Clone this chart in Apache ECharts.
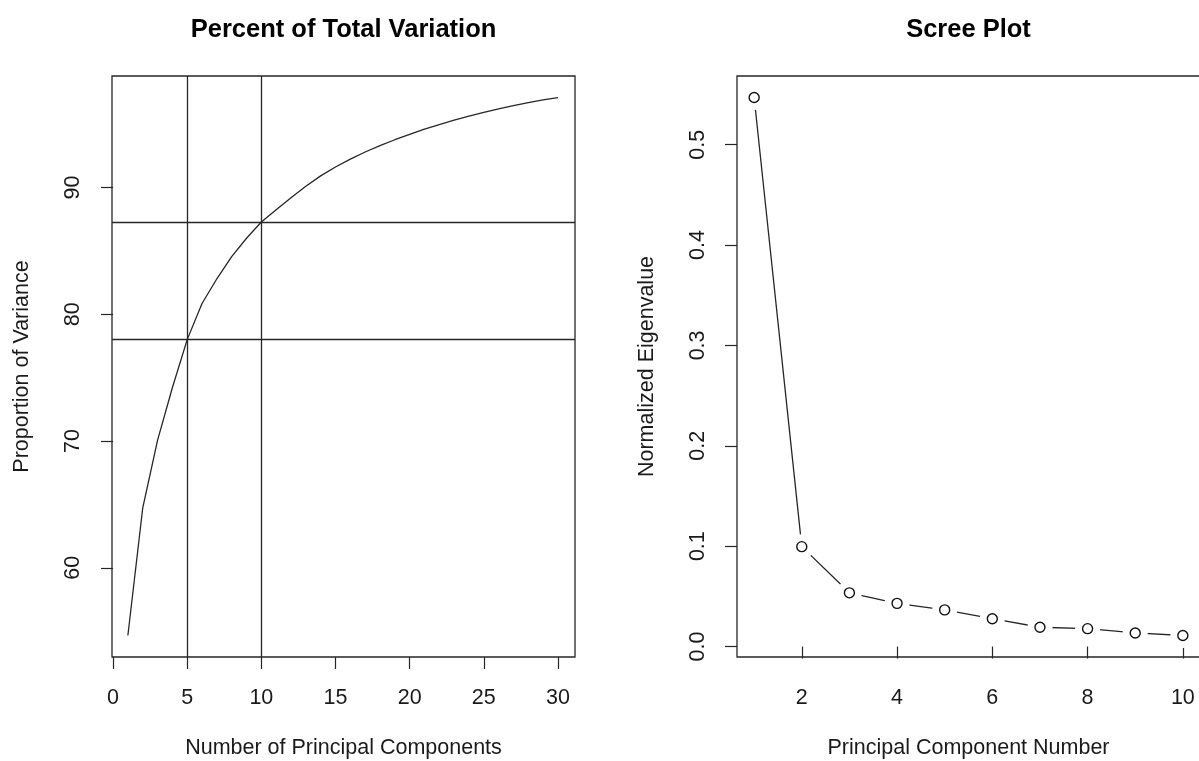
<!DOCTYPE html>
<html>
<head>
<meta charset="utf-8">
<script src="https://cdn.jsdelivr.net/npm/echarts@6/dist/echarts.min.js"></script>
<style>
  html, body { margin: 0; padding: 0; background: #fff; }
  #chart { width: 1199px; height: 761px; }
</style>
</head>
<body>
<div id="chart"></div>
<script>
// Cumulative percent of total variation, components 1..30
const componentCount = [1,2,3,4,5,6,7,8,9,10,11,12,13,14,15,16,17,18,19,20,21,22,23,24,25,26,27,28,29,30];
const cumulativePercent = [54.66, 64.7, 70.05, 74.2, 78.0, 80.85, 82.8, 84.55, 86.0, 87.28,
  88.25, 89.2, 90.1, 90.92, 91.62, 92.24, 92.8, 93.3, 93.77, 94.2,
  94.6, 94.97, 95.31, 95.63, 95.92, 96.2, 96.46, 96.7, 96.91, 97.1];
// Reference cut-offs (number of components)
const cutoffs = [5, 10];

// Normalized eigenvalues of the first ten components
const componentNumber = [1,2,3,4,5,6,7,8,9,10];
const eigenvalues = [0.547, 0.0995, 0.0535, 0.043, 0.0365, 0.0277, 0.0192, 0.0178, 0.0135, 0.011];

// Tick labels
const leftXTicks = [0, 5, 10, 15, 20, 25, 30];
const leftYTicks = [60, 70, 80, 90];
const rightXTicks = [2, 4, 6, 8, 10];
const rightYTicks = [0, 0.1, 0.2, 0.3, 0.4, 0.5];

const FONT = '"Liberation Sans", Arial, Helvetica, sans-serif';
const INK = '#1a1a1a';
const LINE = '#262626';

// R-style range: data span padded by 4% on each side
function padRange(vals) {
  const lo = Math.min(...vals), hi = Math.max(...vals);
  const d = (hi - lo) * 0.04;
  return [lo - d, hi + d];
}

const leftGrid = { left: 112, top: 76, width: 463, height: 581 };
const rightGrid = { left: 737, top: 76, width: 463, height: 581 };

const [lyMin, lyMax] = padRange(cumulativePercent);
const [rxMin, rxMax] = padRange(componentNumber);
const [ryMin, ryMax] = padRange(eigenvalues);

function valueAxis(opts) {
  return Object.assign({
    type: 'value',
    axisLine: { show: false },
    splitLine: { show: false },
    nameLocation: 'middle',
    nameTextStyle: { fontFamily: FONT, fontSize: 21.5, color: INK },
  }, opts);
}

function ticks(values) {
  return { show: true, length: 12, customValues: values, lineStyle: { color: LINE, width: 1.2 } };
}

function frame(rect) {
  return Object.assign({
    show: true, borderColor: LINE, borderWidth: 1.3, backgroundColor: 'transparent',
    containLabel: false, outerBoundsMode: 'none'
  }, rect);
}

const chart = echarts.init(document.getElementById('chart'), null, { renderer: 'canvas' });

chart.setOption({
  backgroundColor: '#fff',
  animation: false,
  grid: [frame(leftGrid), frame(rightGrid)],
  graphic: [
    { type: 'text', x: leftGrid.left + leftGrid.width / 2, y: 30,
      style: { text: 'Percent of Total Variation', font: 'bold 25.5px ' + FONT, fill: '#000', align: 'center', verticalAlign: 'middle' } },
    { type: 'text', x: rightGrid.left + rightGrid.width / 2, y: 30,
      style: { text: 'Scree Plot', font: 'bold 25.5px ' + FONT, fill: '#000', align: 'center', verticalAlign: 'middle' } }
  ],
  xAxis: [
    valueAxis({
      gridIndex: 0, min: -0.07, max: 31.15,
      name: 'Number of Principal Components', nameGap: 80,
      axisTick: ticks(leftXTicks),
      axisLabel: { customValues: leftXTicks, margin: 30, fontFamily: FONT, fontSize: 21.5, color: INK }
    }),
    valueAxis({
      gridIndex: 1, min: rxMin, max: rxMax,
      name: 'Principal Component Number', nameGap: 80,
      axisTick: ticks(rightXTicks),
      axisLabel: { customValues: rightXTicks, margin: 30, fontFamily: FONT, fontSize: 21.5, color: INK }
    })
  ],
  yAxis: [
    valueAxis({
      gridIndex: 0, min: lyMin, max: lyMax,
      name: 'Proportion of Variance', nameGap: 79,
      axisTick: ticks(leftYTicks),
      axisLabel: { customValues: leftYTicks, rotate: 90, margin: 28, fontFamily: FONT, fontSize: 21.5, color: INK }
    }),
    valueAxis({
      gridIndex: 1, min: ryMin, max: ryMax,
      name: 'Normalized Eigenvalue', nameGap: 79,
      axisTick: ticks(rightYTicks),
      axisLabel: { customValues: rightYTicks, rotate: 90, margin: 28, fontFamily: FONT, fontSize: 21.5, color: INK,
        formatter: v => Number(v).toFixed(1) }
    })
  ],
  series: [
    {
      type: 'line', xAxisIndex: 0, yAxisIndex: 0, z: 2,
      data: componentCount.map((k, i) => [k, cumulativePercent[i]]),
      showSymbol: false, symbol: 'none', silent: true,
      lineStyle: { color: LINE, width: 1.3 },
      markLine: {
        silent: true, symbol: 'none', animation: false,
        label: { show: false },
        lineStyle: { color: LINE, width: 1.3, type: 'solid' },
        data: [
          ...cutoffs.map(c => ({ xAxis: c })),
          ...cutoffs.map(c => ({ yAxis: cumulativePercent[componentCount.indexOf(c)] }))
        ]
      }
    },
    {
      type: 'line', xAxisIndex: 1, yAxisIndex: 1, z: 2,
      data: componentNumber.map((k, i) => [k, eigenvalues[i]]),
      showSymbol: false, symbol: 'none', silent: true,
      lineStyle: { color: LINE, width: 1.3 }
    },
    // white halo leaves a gap in the connecting line around each point
    {
      type: 'scatter', xAxisIndex: 1, yAxisIndex: 1, silent: true, z: 5,
      data: componentNumber.map((k, i) => [k, eigenvalues[i]]),
      symbol: 'circle', symbolSize: 25,
      itemStyle: { color: '#ffffff', opacity: 1, borderWidth: 0 }
    },
    {
      type: 'scatter', xAxisIndex: 1, yAxisIndex: 1, silent: true, z: 6,
      data: componentNumber.map((k, i) => [k, eigenvalues[i]]),
      symbol: 'circle', symbolSize: 10,
      itemStyle: { color: '#ffffff', opacity: 1, borderColor: '#111', borderWidth: 1.4 }
    }
  ]
});
</script>
</body>
</html>
